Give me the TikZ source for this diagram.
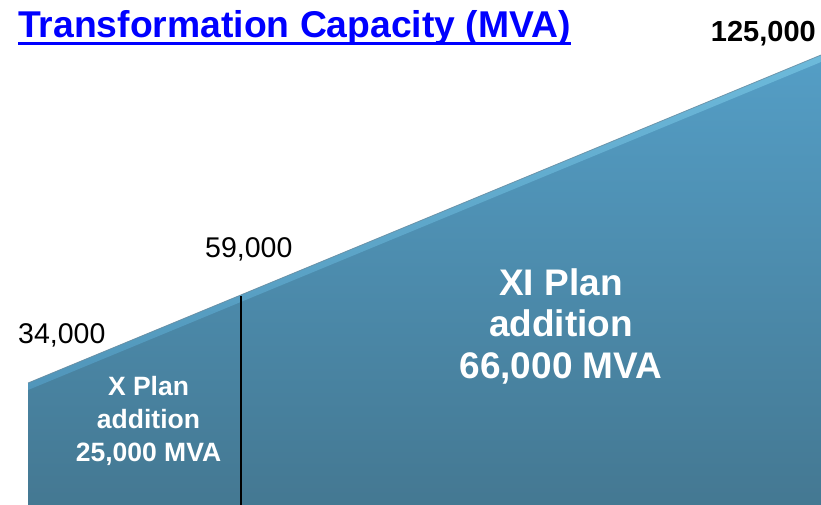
\documentclass[tikz,border=0pt]{standalone}
\usepackage{fontspec}
\setmainfont{Liberation Sans}
\begin{document}
\begin{tikzpicture}[x=1pt,y=-1pt,
  valuelabel/.style={inner sep=0pt,font=\fontsize{28.5}{32}\selectfont},
  planlabel/.style={inner sep=0pt,text=white,align=center}]
\useasboundingbox (0,0) rectangle (821,505);
\definecolor{titleblue}{RGB}{0,0,255}
\definecolor{wtop}{RGB}{84,158,198}
\definecolor{wbot}{RGB}{68,120,146}
\definecolor{edgelight}{RGB}{120,198,228}
\definecolor{edgeline}{RGB}{105,140,160}
% body of the wedge
\shade[top color=wtop,bottom color=wbot] (28,505) -- (28,383) -- (821,55) -- (821,505) -- cycle;
% bevel on top edge
\shade[top color=edgelight,bottom color=wtop,opacity=0.7] (28,383) -- (821,55) -- (821,62) -- (28,390) -- cycle;
% thin edge line
\coordinate (edgeL) at (28,383);
\coordinate (edgeR) at (821,55);
\draw[edgeline,line width=0.8pt,opacity=0.8] (edgeL) -- (edgeR);
% divider
\coordinate (divtop) at (241,296);
\coordinate (divbot) at (241,505);
\draw[line width=1.5pt] (divtop) -- (divbot);
% title
\node[anchor=base west,inner sep=0pt,text=titleblue,font=\fontsize{37.3}{40}\selectfont\bfseries] (title) at (18,38) {Transformation Capacity (MVA)};
\draw[titleblue,line width=3pt] ([yshift=-5.5pt]title.base west) -- ([yshift=-5.5pt]title.base east);
% values
\node[valuelabel,anchor=base east,font=\fontsize{29}{32}\selectfont\bfseries] (v125) at (816,42) {125,000};
\node[valuelabel,anchor=base west] (v59) at (205,257) {59,000};
\node[valuelabel,anchor=base west] (v34) at (18,343) {34,000};
% plan labels
\node[planlabel,font=\fontsize{26.5}{33}\selectfont\bfseries] (xplan) at (148.5,421) {X Plan\\addition\\25,000 MVA};
\node[planlabel,font=\fontsize{37}{41.5}\selectfont\bfseries] (xiplan) at (561,326) {XI Plan\\addition\\66,000 MVA};
\end{tikzpicture}
\end{document}
